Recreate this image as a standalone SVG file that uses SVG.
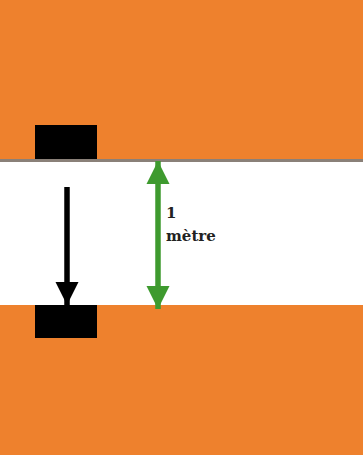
<svg xmlns="http://www.w3.org/2000/svg" width="363" height="455" viewBox="0 0 363 455">
<style>
.band{fill:#EE812D}
.block{fill:#000}
.lbl{font-family:"DejaVu Serif","Liberation Serif",serif;font-weight:bold;font-size:15px;fill:#222}
</style>
<defs>
<marker id="ah-black" viewBox="0 0 10 10" refX="10" refY="5" markerWidth="4.2" markerHeight="4.6" orient="auto" markerUnits="strokeWidth">
<path d="M0,0 L10,5 L0,10 z" fill="#000"/>
</marker>
<marker id="ah-green" viewBox="0 0 10 10" refX="10" refY="5" markerWidth="4.2" markerHeight="4.6" orient="auto-start-reverse" markerUnits="strokeWidth">
<path d="M0,0 L10,5 L0,10 z" fill="#3E9A2E"/>
</marker>
</defs>
<rect width="363" height="455" fill="#fff"/>
<g id="top-band">
<rect class="band" x="0" y="0" width="363" height="160"/>
<rect x="0" y="159" width="363" height="3" fill="#8a8078"/>
</g>
<g id="bottom-band">
<rect class="band" x="0" y="305" width="363" height="150"/>
</g>
<g id="top-block">
<rect class="block" x="35" y="125" width="62" height="34"/>
</g>
<g id="bottom-block">
<rect class="block" x="35" y="305" width="62" height="33"/>
</g>
<g id="connectors">
<line x1="67" y1="187" x2="67" y2="305" stroke="#000" stroke-width="5.5" marker-end="url(#ah-black)"/>
<line x1="158" y1="161" x2="158" y2="309" stroke="#3E9A2E" stroke-width="5.5" marker-start="url(#ah-green)" marker-end="url(#ah-green)"/>
</g>
<g id="label">
<text class="lbl" x="166" y="218">1</text>
<text class="lbl" x="166" y="241">mètre</text>
</g>
</svg>
